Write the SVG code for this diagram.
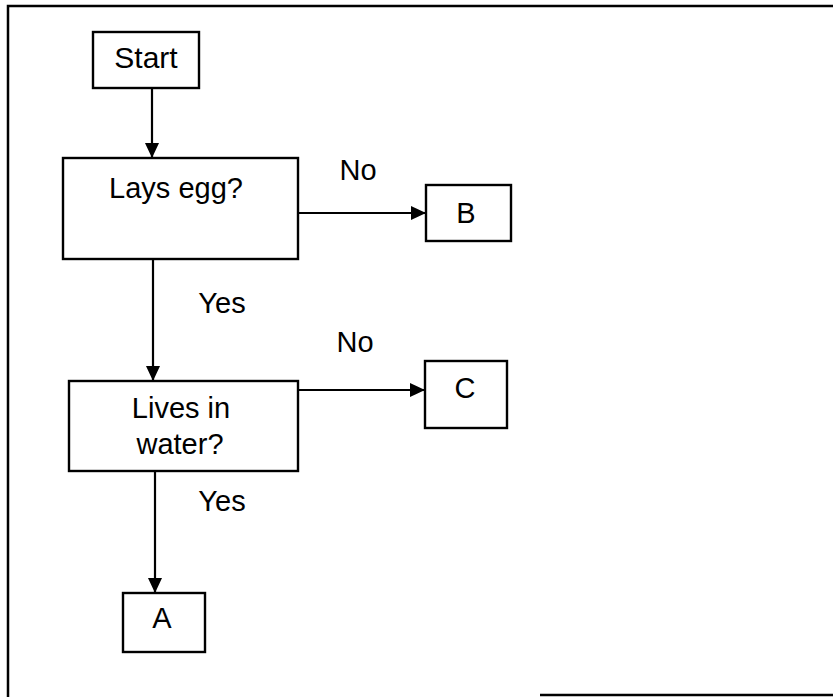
<svg xmlns="http://www.w3.org/2000/svg" width="833" height="697" viewBox="0 0 833 697">
<defs>
<style>
.box{fill:#fff;stroke:#000;stroke-width:2.4}
.frame{fill:none;stroke:#000;stroke-width:2.5}
.conn{fill:none;stroke:#000;stroke-width:2.2}
text{font-family:"Liberation Sans",Arial,sans-serif;font-size:29px;fill:#000;text-anchor:middle}
</style>
<marker id="arr" markerUnits="userSpaceOnUse" markerWidth="16" markerHeight="16" viewBox="0 0 16 16" refX="15" refY="8" orient="auto">
<path d="M0,1 L15,8 L0,15 Z" fill="#000"/>
</marker>
</defs>
<rect width="833" height="697" fill="#fff"/>
<g id="frame">
<path class="frame" d="M8,697 V6 H833"/>
<path class="frame" d="M540,695 H833"/>
</g>
<g id="connectors">
<line class="conn" x1="152" y1="88" x2="152" y2="158" marker-end="url(#arr)"/>
<line class="conn" x1="298" y1="213" x2="426" y2="213" marker-end="url(#arr)"/>
<line class="conn" x1="153" y1="259" x2="153" y2="381" marker-end="url(#arr)"/>
<line class="conn" x1="298" y1="390" x2="425" y2="390" marker-end="url(#arr)"/>
<line class="conn" x1="155" y1="471" x2="155" y2="593" marker-end="url(#arr)"/>
<text x="358" y="180">No</text>
<text x="222" y="313">Yes</text>
<text x="355" y="352">No</text>
<text x="222" y="511">Yes</text>
</g>
<g id="start">
<rect class="box" x="93" y="32" width="106" height="56"/>
<text x="146" y="68" style="font-size:30px">Start</text>
</g>
<g id="lays-egg">
<rect class="box" x="63" y="158" width="235" height="101"/>
<text x="176" y="198">Lays egg?</text>
</g>
<g id="b">
<rect class="box" x="426" y="185" width="85" height="56"/>
<text x="466" y="223">B</text>
</g>
<g id="lives-in-water">
<rect class="box" x="69" y="381" width="229" height="90"/>
<text x="181" y="418">Lives in</text>
<text x="180" y="454">water?</text>
</g>
<g id="c">
<rect class="box" x="425" y="361" width="82" height="67"/>
<text x="465" y="398">C</text>
</g>
<g id="a">
<rect class="box" x="123" y="593" width="82" height="59"/>
<text x="162" y="628">A</text>
</g>
</svg>
